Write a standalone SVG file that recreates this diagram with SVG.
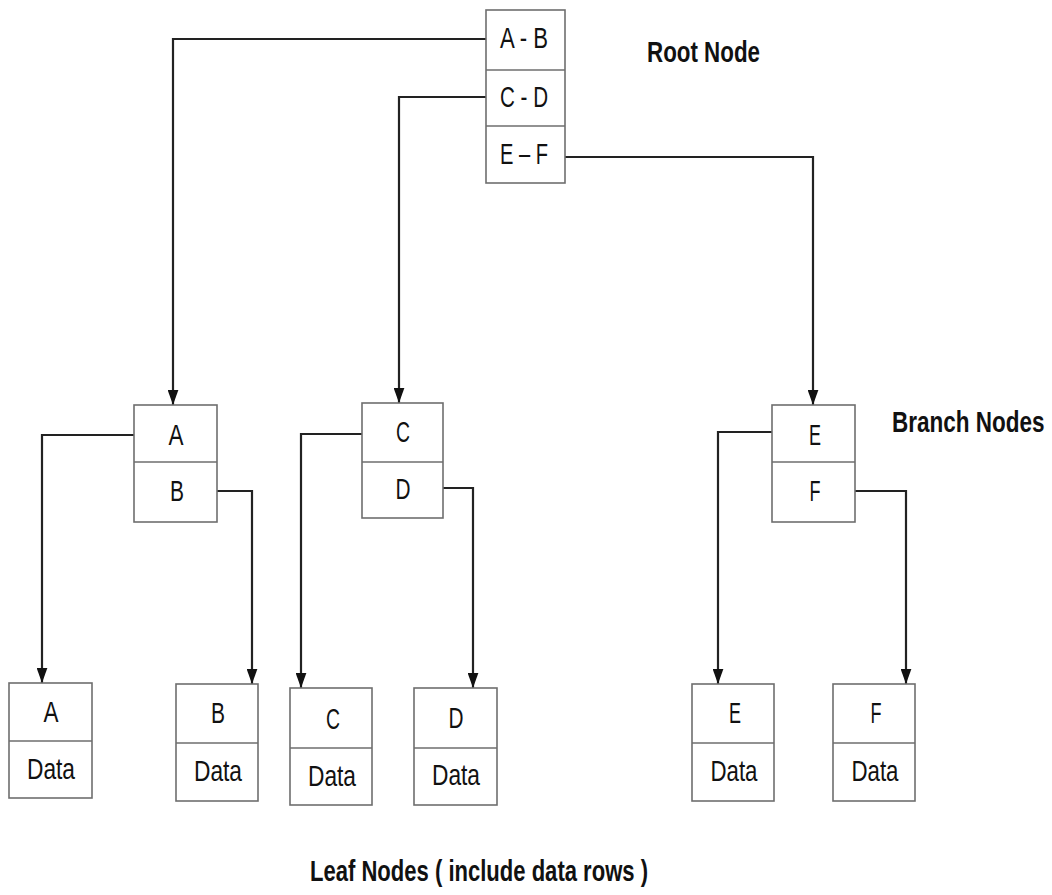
<svg xmlns="http://www.w3.org/2000/svg" width="1052" height="895" viewBox="0 0 1052 895">
<style>
.box{fill:#fff;stroke:#6e6e6e;stroke-width:1.6}
.div{stroke:#6e6e6e;stroke-width:1.6}
.lbl{font-family:"Liberation Sans",Arial,sans-serif;font-size:30px;fill:#111;text-anchor:middle}
.cap{font-family:"Liberation Sans",Arial,sans-serif;font-size:30px;font-weight:bold;fill:#111}
.con{fill:none;stroke:#222;stroke-width:2.2}
</style>
<defs>
<marker id="arr" viewBox="0 0 14 10" refX="14" refY="5" markerWidth="15" markerHeight="11" markerUnits="userSpaceOnUse" orient="auto">
<path d="M0,0 L14,5 L0,10 z" fill="#111"/>
</marker>
</defs>
<rect width="1052" height="895" fill="#fff"/>
<g id="connectors">
<path class="con" marker-end="url(#arr)" d="M486,39 H173 V405"/>
<path class="con" marker-end="url(#arr)" d="M486,97 H399 V403"/>
<path class="con" marker-end="url(#arr)" d="M565,157 H813 V405"/>
<path class="con" marker-end="url(#arr)" d="M134,435 H42 V683"/>
<path class="con" marker-end="url(#arr)" d="M217,491 H252 V684"/>
<path class="con" marker-end="url(#arr)" d="M362,434 H301 V688"/>
<path class="con" marker-end="url(#arr)" d="M443,488 H473 V688"/>
<path class="con" marker-end="url(#arr)" d="M772,432 H718 V684"/>
<path class="con" marker-end="url(#arr)" d="M855,491 H906 V684"/>
</g>
<g id="root">
<rect class="box" x="486" y="10" width="79" height="173"/>
<line class="div" x1="486" y1="70" x2="565" y2="70"/>
<line class="div" x1="486" y1="126" x2="565" y2="126"/>
<text class="lbl" x="524" y="48" textLength="48" lengthAdjust="spacingAndGlyphs">A - B</text>
<text class="lbl" x="524" y="107" textLength="48" lengthAdjust="spacingAndGlyphs">C - D</text>
<text class="lbl" x="524" y="164" textLength="48" lengthAdjust="spacingAndGlyphs">E – F</text>
</g>
<g id="branch-ab">
<rect class="box" x="134" y="405" width="83" height="117"/>
<line class="div" x1="134" y1="462" x2="217" y2="462"/>
<text class="lbl" x="176" y="445" textLength="15" lengthAdjust="spacingAndGlyphs">A</text>
<text class="lbl" x="177" y="501" textLength="14" lengthAdjust="spacingAndGlyphs">B</text>
</g>
<g id="branch-cd">
<rect class="box" x="362" y="403" width="81" height="115"/>
<line class="div" x1="362" y1="462" x2="443" y2="462"/>
<text class="lbl" x="403" y="442" textLength="14" lengthAdjust="spacingAndGlyphs">C</text>
<text class="lbl" x="403" y="499" textLength="15" lengthAdjust="spacingAndGlyphs">D</text>
</g>
<g id="branch-ef">
<rect class="box" x="772" y="405" width="83" height="117"/>
<line class="div" x1="772" y1="462" x2="855" y2="462"/>
<text class="lbl" x="815" y="445" textLength="12" lengthAdjust="spacingAndGlyphs">E</text>
<text class="lbl" x="815" y="501" textLength="11" lengthAdjust="spacingAndGlyphs">F</text>
</g>
<g id="leaf-a">
<rect class="box" x="9" y="683" width="83" height="115"/>
<line class="div" x1="9" y1="741" x2="92" y2="741"/>
<text class="lbl" x="51" y="722" textLength="15" lengthAdjust="spacingAndGlyphs">A</text>
<text class="lbl" x="51" y="779" textLength="48" lengthAdjust="spacingAndGlyphs">Data</text>
</g>
<g id="leaf-b">
<rect class="box" x="176" y="684" width="82" height="117"/>
<line class="div" x1="176" y1="743" x2="258" y2="743"/>
<text class="lbl" x="218" y="723" textLength="14" lengthAdjust="spacingAndGlyphs">B</text>
<text class="lbl" x="218" y="781" textLength="48" lengthAdjust="spacingAndGlyphs">Data</text>
</g>
<g id="leaf-c">
<rect class="box" x="290" y="688" width="82" height="117"/>
<line class="div" x1="290" y1="748" x2="372" y2="748"/>
<text class="lbl" x="333" y="729" textLength="14" lengthAdjust="spacingAndGlyphs">C</text>
<text class="lbl" x="332" y="786" textLength="48" lengthAdjust="spacingAndGlyphs">Data</text>
</g>
<g id="leaf-d">
<rect class="box" x="414" y="688" width="83" height="117"/>
<line class="div" x1="414" y1="748" x2="497" y2="748"/>
<text class="lbl" x="456" y="728" textLength="15" lengthAdjust="spacingAndGlyphs">D</text>
<text class="lbl" x="456" y="785" textLength="48" lengthAdjust="spacingAndGlyphs">Data</text>
</g>
<g id="leaf-e">
<rect class="box" x="692" y="684" width="82" height="117"/>
<line class="div" x1="692" y1="743" x2="774" y2="743"/>
<text class="lbl" x="735" y="723" textLength="12" lengthAdjust="spacingAndGlyphs">E</text>
<text class="lbl" x="734" y="781" textLength="47" lengthAdjust="spacingAndGlyphs">Data</text>
</g>
<g id="leaf-f">
<rect class="box" x="833" y="684" width="82" height="117"/>
<line class="div" x1="833" y1="743" x2="915" y2="743"/>
<text class="lbl" x="876" y="723" textLength="11" lengthAdjust="spacingAndGlyphs">F</text>
<text class="lbl" x="875" y="781" textLength="47" lengthAdjust="spacingAndGlyphs">Data</text>
</g>
<g id="captions">
<text class="cap" x="647" y="62" textLength="113" lengthAdjust="spacingAndGlyphs">Root Node</text>
<text class="cap" transform="translate(892,432) scale(0.75,1)" x="0" y="0">Branch  Nodes</text>
<text class="cap" x="310" y="881" textLength="338" lengthAdjust="spacingAndGlyphs">Leaf  Nodes ( include data rows )</text>
</g>
</svg>
